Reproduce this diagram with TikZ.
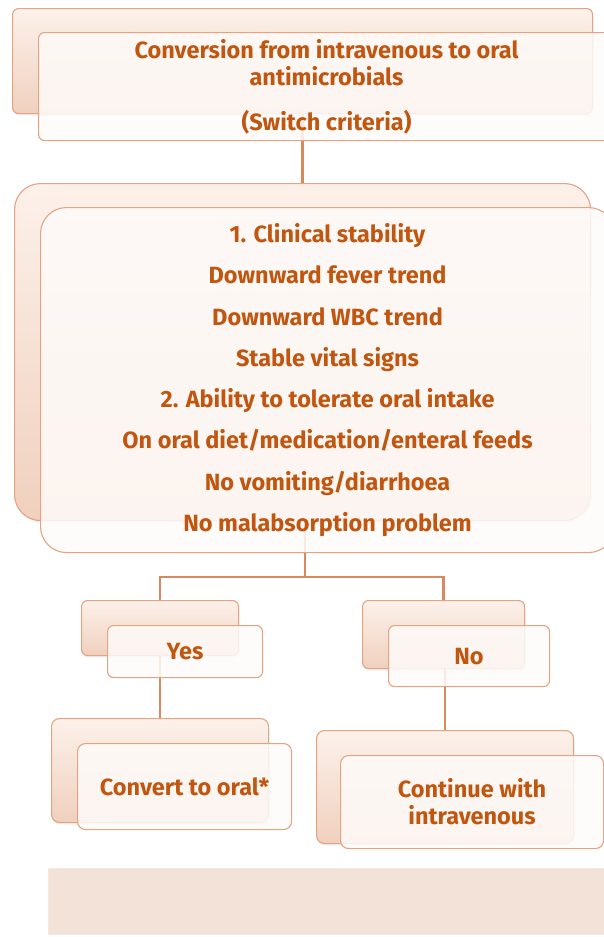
\documentclass[tikz,border=0pt]{standalone}
\usepackage{fontspec}
\setmainfont{Fira Sans}
\usetikzlibrary{shadows,backgrounds}
\definecolor{txt}{HTML}{C0560F}
\definecolor{edge}{HTML}{E2A483}
\definecolor{linkc}{HTML}{D68A5E}
\definecolor{backtop}{HTML}{FCF1EA}
\definecolor{backbot}{HTML}{F0D0BE}
\definecolor{frontfill}{HTML}{FEFBF9}
\definecolor{band}{HTML}{F3E2D8}
\tikzset{
  backbox/.style={draw=edge, line width=1.1pt, rounded corners=6pt, top color=backtop, bottom color=backbot, anchor=north west, inner sep=0pt,
    drop shadow={opacity=0.12, shadow xshift=1pt, shadow yshift=-2pt}},
  frontbox/.style={draw=edge, line width=1.1pt, rounded corners=6pt, fill=frontfill, fill opacity=0.85, text opacity=1, text=txt,
    font=\bfseries\fontsize{23.5}{27}\selectfont, align=center, anchor=north west, inner sep=0pt},
  link/.style={draw=linkc, line width=2.8pt}
}
\begin{document}
\begin{tikzpicture}[x=1pt,y=-1pt]
\useasboundingbox (0,0) rectangle (604,937);
\clip (0,0) rectangle (604,937);
\coordinate (j) at (305,577);
\node[backbox, minimum width=580, minimum height=105] (b1) at (12,8) {};
\node[backbox, rounded corners=26pt, minimum width=576, minimum height=337] (b2) at (14,183) {};
\node[backbox, minimum width=157, minimum height=55] (yb) at (81,600) {};
\node[backbox, minimum width=162, minimum height=68] (nb) at (362,600) {};
\node[backbox, rounded corners=8pt, minimum width=217, minimum height=104] (cb) at (51,718) {};
\node[backbox, rounded corners=8pt, minimum width=257, minimum height=113] (ib) at (316,730) {};

\node[frontbox, minimum width=576, minimum height=108] (f1) at (38,32)
  {Conversion from intravenous to oral\\antimicrobials\\[18pt](Switch criteria)};
\node[frontbox, rounded corners=26pt, font=\bfseries\fontsize{23.5}{41.3}\selectfont, minimum width=574, minimum height=345] (f2) at (40,207)
  {1. Clinical stability\\Downward fever trend\\Downward WBC trend\\Stable vital signs\\2. Ability to tolerate oral intake\\On oral diet/medication/enteral feeds\\No vomiting/diarrhoea\\No malabsorption problem};
\node[frontbox, minimum width=155, minimum height=52] (yf) at (107,625) {Yes};
\node[frontbox, minimum width=161, minimum height=61] (nf) at (388,625) {No};
\node[frontbox, rounded corners=8pt, minimum width=214, minimum height=86] (cf) at (77,743) {Convert to oral*};
\node[frontbox, rounded corners=8pt, minimum width=263, minimum height=93] (if) at (340,755) {Continue with\\intravenous};

\begin{scope}[on background layer]
\draw[link] (b1.south -| b2.north) -- (b2.north);
\draw[link] (j |- b2.south) -- (j);
\draw[link] (yb.north) |- (j) -| (nb.north);
\draw[link] (yb.north) -- (cb.north);
\draw[link] (nb.north -| ib.north) -- (ib.north);
\end{scope}

\node[fill=band, draw=band!80!white, line width=0.6pt, anchor=north west, minimum width=560, minimum height=66, inner sep=0pt] (bandbox) at (48,868) {};
\end{tikzpicture}
\end{document}
